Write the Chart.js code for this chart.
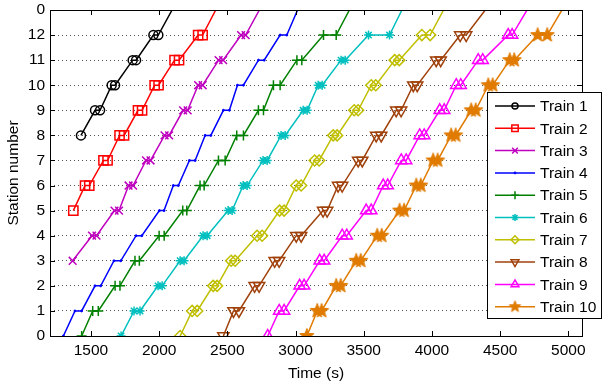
<!DOCTYPE html>
<html>
<head>
<meta charset="utf-8">
<script src="https://cdn.jsdelivr.net/npm/chart.js@4.4.0/dist/chart.umd.min.js"></script>
<style>
  html, body { margin: 0; padding: 0; background: #fff; }
</style>
</head>
<body>
<canvas id="trains" width="602" height="383"></canvas>
<script>
// arrival / departure times (s), one pair per station
const train1Time = [1427, 1530, 1567, 1652, 1677, 1806, 1831, 1958, 1994, 2095];
const train1Station = [8, 9, 9, 10, 10, 11, 11, 12, 12, 13];

const train2Time = [1371, 1457, 1488, 1592, 1622, 1710, 1743, 1845, 1875, 1967, 1996, 2113, 2146, 2286, 2319, 2415];
const train2Station = [5, 6, 6, 7, 7, 8, 8, 9, 9, 10, 10, 11, 11, 12, 12, 13];

const train3Time = [1366, 1508, 1541, 1673, 1706, 1776, 1809, 1904, 1937, 2040, 2073, 2176, 2209, 2286, 2319, 2436, 2469, 2601, 2634, 2735];
const train3Station = [3, 4, 4, 5, 5, 6, 6, 7, 7, 8, 8, 9, 9, 10, 10, 11, 11, 12, 12, 13];

// trains 4..10 run the whole line
const fullStation = [0, 1, 1, 2, 2, 3, 3, 4, 4, 5, 5, 6, 6, 7, 7, 8, 8, 9, 9, 10, 10, 11, 11, 12, 12, 13];
const train4Time = [1298, 1383, 1432, 1530, 1572, 1669, 1719, 1831, 1873, 2002, 2036, 2104, 2141, 2222, 2264, 2337, 2379, 2471, 2515, 2574, 2618, 2728, 2770, 2887, 2936, 3015];
const train5Time = [1432, 1513, 1554, 1677, 1713, 1823, 1855, 2000, 2037, 2173, 2203, 2300, 2330, 2435, 2484, 2569, 2618, 2728, 2765, 2838, 2887, 3010, 3046, 3205, 3298, 3395];
const train6Time = [1721, 1816, 1860, 1992, 2022, 2154, 2183, 2322, 2352, 2506, 2535, 2616, 2645, 2762, 2792, 2894, 2924, 3056, 3085, 3166, 3195, 3334, 3364, 3535, 3689, 3780];
const train7Time = [2154, 2242, 2279, 2396, 2425, 2528, 2557, 2718, 2755, 2883, 2916, 3005, 3041, 3140, 3173, 3276, 3305, 3430, 3459, 3555, 3588, 3727, 3760, 3926, 3987, 4085];
const train8Time = [2471, 2545, 2585, 2700, 2733, 2847, 2880, 3005, 3041, 3202, 3232, 3312, 3342, 3459, 3489, 3591, 3628, 3738, 3774, 3863, 3892, 4031, 4064, 4207, 4251, 4391];
const train9Time = [2796, 2880, 2916, 3030, 3063, 3177, 3210, 3342, 3375, 3518, 3555, 3643, 3676, 3775, 3811, 3910, 3943, 4057, 4090, 4178, 4211, 4339, 4372, 4559, 4588, 4697];
const train10Time = [3083, 3159, 3191, 3298, 3331, 3445, 3478, 3599, 3632, 3763, 3796, 3885, 3918, 4009, 4042, 4141, 4174, 4288, 4321, 4413, 4445, 4570, 4603, 4775, 4845, 4953];

const trainNames = ['Train 1', 'Train 2', 'Train 3', 'Train 4', 'Train 5', 'Train 6', 'Train 7', 'Train 8', 'Train 9', 'Train 10'];
const xTicks = [1500, 2000, 2500, 3000, 3500, 4000, 4500, 5000];
const xTickLabels = ['1500', '2000', '2500', '3000', '3500', '4000', '4500', '5000'];
const yTicks = [0, 1, 2, 3, 4, 5, 6, 7, 8, 9, 10, 11, 12, 13];
const yTickLabels = ['0', '1', '2', '3', '4', '5', '6', '7', '8', '9', '10', '11', '12', '0'];

const series = [
  [train1Time, train1Station], [train2Time, train2Station], [train3Time, train3Station],
  [train4Time, fullStation], [train5Time, fullStation], [train6Time, fullStation],
  [train7Time, fullStation], [train8Time, fullStation], [train9Time, fullStation],
  [train10Time, fullStation]
];

const colors = ['#000000', '#ff0000', '#bf00bf', '#0000ff', '#008000', '#00bfbf', '#bfbf00', '#a0410b', '#ff00ff', '#e07b00'];
const FONT = '"Liberation Sans", Arial, Helvetica, sans-serif';
const FS = 15.5;

function pentagram(r, color) {
  const c = document.createElement('canvas');
  const s = Math.ceil(r * 2 + 3);
  c.width = s; c.height = s;
  const g = c.getContext('2d');
  g.fillStyle = color; g.strokeStyle = color; g.lineWidth = 1;
  g.beginPath();
  for (let i = 0; i < 10; i++) {
    const rr = i % 2 ? r * 0.42 : r;
    const a = -Math.PI / 2 + i * Math.PI / 5;
    g.lineTo(s / 2 + rr * Math.cos(a), s / 2 + rr * Math.sin(a));
  }
  g.closePath(); g.fill(); g.stroke();
  return c;
}

// marker look per train: style, radius on plot, radius in legend
const markers = [
  { style: 'circle', r: 4.5, lr: 3, fill: false, rot: 0, bw: 1.5 },
  { style: 'rect', r: 6.5, lr: 4.5, fill: false, rot: 0, bw: 1.5 },
  { style: 'crossRot', r: 5.5, lr: 4, fill: false, rot: 0, bw: 1.5 },
  { style: 'circle', r: 1, lr: 1, fill: true, rot: 0, bw: 1 },
  { style: 'cross', r: 5, lr: 4, fill: false, rot: 0, bw: 1.5 },
  { style: 'star', r: 4.5, lr: 3.5, fill: false, rot: 0, bw: 1.5 },
  { style: 'rectRot', r: 5.5, lr: 4, fill: false, rot: 0, bw: 1.5 },
  { style: 'triangle', r: 6.5, lr: 4.5, fill: false, rot: 180, bw: 1.5 },
  { style: 'triangle', r: 6.5, lr: 4.5, fill: false, rot: 0, bw: 1.5 },
  { style: pentagram(7.5, colors[9]), legendStyle: pentagram(6, colors[9]), r: 7, lr: 6, fill: true, rot: 0, bw: 1.5 }
];

const datasets = series.map(([t, s], i) => {
  const m = markers[i];
  return {
    label: trainNames[i],
    data: t.map((v, k) => ({ x: v, y: s[k] })),
    showLine: true,
    borderColor: colors[i],
    borderWidth: 1.5,
    pointStyle: m.style,
    pointRotation: m.rot,
    pointBorderColor: colors[i],
    pointBackgroundColor: m.fill ? colors[i] : 'rgba(0,0,0,0)',
    pointBorderWidth: m.bw,
    pointRadius: ctx => ctx.dataIndex === t.length - 1 ? 0 : m.r
  };
});

// axes box with inward ticks on all four sides
const frame = {
  id: 'frame',
  afterDatasetsDraw(chart) {
    const { ctx, chartArea: a, scales: { x, y } } = chart;
    ctx.save();
    ctx.strokeStyle = '#000';
    ctx.lineWidth = 1;
    ctx.beginPath();
    xTicks.forEach(v => {
      const px = Math.round(x.getPixelForValue(v)) + 0.5;
      ctx.moveTo(px, a.bottom); ctx.lineTo(px, a.bottom - 5);
      ctx.moveTo(px, a.top); ctx.lineTo(px, a.top + 5);
    });
    yTicks.forEach(v => {
      const py = Math.round(y.getPixelForValue(v)) + 0.5;
      ctx.moveTo(a.left, py); ctx.lineTo(a.left + 5, py);
      ctx.moveTo(a.right, py); ctx.lineTo(a.right - 5, py);
    });
    ctx.stroke();
    ctx.strokeRect(Math.round(a.left) + 0.5, Math.round(a.top) + 0.5, Math.round(a.right - a.left), Math.round(a.bottom - a.top));
    ctx.restore();
  }
};

const trainLegend = {
  id: 'trainLegend',
  afterDraw(chart) {
    const ctx = chart.ctx;
    const bx = 487.5, by = 92.5, bw = 114, bh = 226;
    ctx.save();
    ctx.fillStyle = '#fff';
    ctx.fillRect(bx, by, bw, bh);
    ctx.strokeStyle = '#000';
    ctx.lineWidth = 1;
    ctx.strokeRect(bx, by, bw, bh);
    chart.data.datasets.forEach((ds, i) => {
      const m = markers[i];
      const yy = by + 13.5 + i * 22.3;
      ctx.strokeStyle = colors[i];
      ctx.lineWidth = 1.5;
      ctx.beginPath(); ctx.moveTo(495, yy); ctx.lineTo(535, yy); ctx.stroke();
      ctx.fillStyle = m.fill ? colors[i] : 'rgba(0,0,0,0)';
      ctx.lineWidth = m.bw;
      Chart.helpers.drawPoint(ctx, {
        pointStyle: m.legendStyle || m.style, rotation: m.rot, radius: m.lr, borderWidth: m.bw
      }, 515, yy);
      ctx.fillStyle = '#000';
      ctx.font = FS + 'px ' + FONT;
      ctx.textBaseline = 'middle';
      ctx.textAlign = 'left';
      ctx.fillText(trainNames[i], 540, yy + 1);
    });
    ctx.restore();
  }
};

new Chart(document.getElementById('trains'), {
  type: 'scatter',
  data: { datasets },
  options: {
    responsive: false,
    animation: false,
    events: [],
    devicePixelRatio: 1,
    layout: { padding: { top: 10, right: 20, left: 0, bottom: 0 } },
    plugins: { legend: { display: false }, tooltip: { enabled: false } },
    scales: {
      x: {
        type: 'linear',
        min: 1200,
        max: 5100,
        afterBuildTicks: s => { s.ticks = xTicks.map(v => ({ value: v })); },
        afterFit: s => { s.height = 47; },
        grid: { display: false, drawTicks: false },
        border: { display: false },
        ticks: { color: '#000', padding: 5, maxRotation: 0, callback: (v, i) => xTickLabels[i], font: { family: FONT, size: FS } },
        title: { display: true, text: 'Time (s)', color: '#000', padding: { top: 10, bottom: 0 }, font: { family: FONT, size: FS } }
      },
      y: {
        type: 'linear',
        min: 0,
        max: 13,
        afterBuildTicks: s => { s.ticks = yTicks.map(v => ({ value: v })); },
        afterFit: s => { s.width = 50; },
        grid: { color: '#555', lineWidth: 1, drawTicks: false },
        border: { display: false, dash: [1, 3] },
        ticks: { color: '#000', padding: 5, callback: (v, i) => yTickLabels[i], font: { family: FONT, size: FS, lineHeight: 0.5 } },
        title: { display: true, text: 'Station number', color: '#000', padding: { top: 4, bottom: 0 }, font: { family: FONT, size: FS } }
      }
    }
  },
  plugins: [frame, trainLegend]
});
</script>
</body>
</html>
